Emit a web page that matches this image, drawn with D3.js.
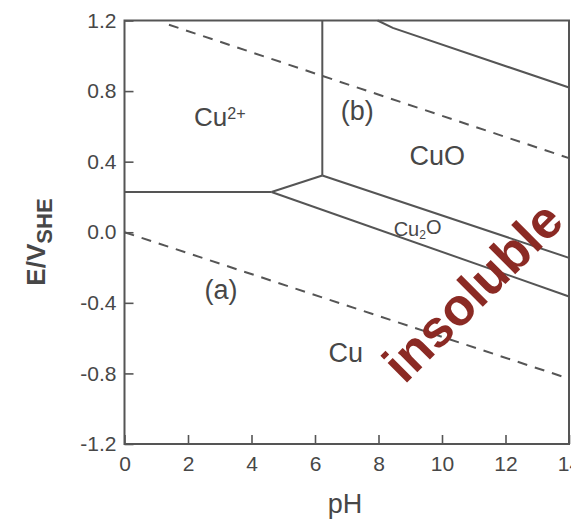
<!DOCTYPE html>
<html>
<head>
<meta charset="utf-8">
<script src="https://cdn.jsdelivr.net/npm/d3@7"></script>
<style>
  html, body { margin: 0; padding: 0; background: #fff; }
  svg { display: block; font-family: "Liberation Sans", Arial, Helvetica, sans-serif; }
</style>
</head>
<body>
<svg id="chart" width="571" height="519"></svg>
<script>
// Axis ticks
const phTicks = [0, 2, 4, 6, 8, 10, 12, 14];
const eTicks = [-1.2, -0.8, -0.4, 0, 0.4, 0.8, 1.2];
const eTickLabels = ["-1.2", "-0.8", "-0.4", "0.0", "0.4", "0.8", "1.2"];

// Stability-field boundaries, as [pH, E] points
const cu2CuLine    = [[0, 0.228], [4.63, 0.228]];
const cu2Cu2OLine  = [[4.63, 0.228], [6.23, 0.322]];
const cu2CuOLine   = [[6.23, 0.322], [6.23, 1.2]];
const cuOCu2OLine  = [[6.23, 0.322], [14, -0.145]];
const cu2OCuLine   = [[4.63, 0.228], [14, -0.364]];
const upperLine    = [[7.97, 1.2], [8.45, 1.158], [14, 0.82]];

// Water stability limits (dashed)
const waterLineB = [[1.4, 1.176], [14, 0.42]];
const waterLineA = [[0, 0.0], [14, -0.83]];

// Field labels, anchored at [pH, E]
const fieldLabels = [
  { text: "Cu", sup: "2+", ph: 3.0, e: 0.655, size: 26 },
  { text: "(b)", ph: 7.33, e: 0.694, size: 27 },
  { text: "CuO", ph: 9.85, e: 0.438, size: 27 },
  { text: "Cu", sub: "2", tail: "O", ph: 9.23, e: 0.018, size: 20 },
  { text: "(a)", ph: 3.04, e: -0.322, size: 27 },
  { text: "Cu", ph: 6.97, e: -0.683, size: 27 }
];

const svg = d3.select("#chart");
const x = d3.scaleLinear().domain([0, 14]).range([124.5, 569]);
const y = d3.scaleLinear().domain([-1.2, 1.2]).range([444, 20.5]);

const ink = "#555";
const textInk = "#474747";

// Axes with inward ticks
const yAxis = d3.axisLeft(y)
  .tickValues(eTicks)
  .tickFormat((d, i) => eTickLabels[i])
  .tickSizeInner(-9).tickSizeOuter(0).tickPadding(8);
const xAxis = d3.axisBottom(x)
  .tickValues(phTicks)
  .tickFormat(d3.format("d"))
  .tickSizeInner(-9).tickSizeOuter(0).tickPadding(12);

const gy = svg.append("g").attr("transform", `translate(${x(0)},0)`).call(yAxis);
const gx = svg.append("g").attr("transform", `translate(0,${y(-1.2)})`).call(xAxis);
[gx, gy].forEach(g => {
  g.select(".domain").remove();
  g.selectAll(".tick line").attr("stroke", ink).attr("stroke-width", 1.6);
  g.selectAll(".tick text").attr("fill", textInk)
    .style("font-size", "21px").style("font-family", "'Liberation Sans', Arial, sans-serif");
});

// Frame
svg.append("rect")
  .attr("x", x(0)).attr("y", y(1.2))
  .attr("width", x(14) - x(0)).attr("height", y(-1.2) - y(1.2))
  .attr("fill", "none").attr("stroke", ink).attr("stroke-width", 2);

const line = d3.line().x(d => x(d[0])).y(d => y(d[1]));

// Solid boundaries
[cu2CuLine, cu2Cu2OLine, cu2CuOLine, cuOCu2OLine, cu2OCuLine, upperLine].forEach(pts => {
  svg.append("path").attr("d", line(pts))
    .attr("fill", "none").attr("stroke", ink).attr("stroke-width", 2);
});

// Dashed water lines
[waterLineB, waterLineA].forEach(pts => {
  svg.append("path").attr("d", line(pts))
    .attr("fill", "none").attr("stroke", ink).attr("stroke-width", 2)
    .attr("stroke-dasharray", "10,8");
});

// Field labels
fieldLabels.forEach(l => {
  const t = svg.append("text")
    .attr("x", x(l.ph)).attr("y", y(l.e)).attr("dy", "0.36em")
    .attr("text-anchor", "middle").attr("fill", textInk)
    .style("font-size", l.size + "px");
  t.append("tspan").text(l.text);
  if (l.sup) t.append("tspan").attr("dy", "-0.45em").style("font-size", "0.62em").text(l.sup);
  if (l.sub) {
    t.append("tspan").attr("dy", "0.25em").style("font-size", "0.6em").text(l.sub);
    t.append("tspan").attr("dy", "-0.25em").text(l.tail);
  }
});

// Axis titles
svg.append("text")
  .attr("x", 345).attr("y", 513)
  .attr("text-anchor", "middle").attr("fill", textInk)
  .style("font-size", "27px").text("pH");

const yt = svg.append("text")
  .attr("transform", "translate(45,242) rotate(-90)")
  .attr("text-anchor", "middle").attr("fill", textInk)
  .style("font-size", "26px").style("font-weight", "bold");
yt.append("tspan").text("E/V");
yt.append("tspan").attr("dy", "0.3em").style("font-size", "0.85em").text("SHE");

// Overlay annotation
svg.append("text")
  .attr("transform", "translate(472,291) rotate(-45)")
  .attr("text-anchor", "middle").attr("dy", "0.36em")
  .attr("fill", "#8b2a24")
  .style("font-size", "52px").style("font-weight", "bold")
  .text("insoluble");
</script>
</body>
</html>
